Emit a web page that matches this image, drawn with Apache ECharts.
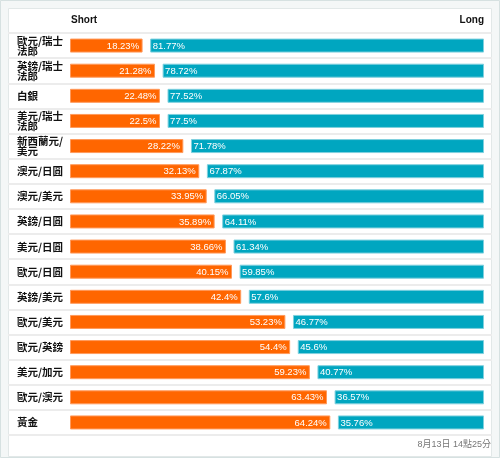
<!DOCTYPE html>
<html><head><meta charset="utf-8">
<script src="https://cdn.jsdelivr.net/npm/echarts@6/dist/echarts.min.js"></script>
<style>html,body{margin:0;padding:0;background:#fff}#c{width:500px;height:458px}</style>
</head><body><div id="c"></div>
<script>
var categories = ['歐元/瑞士法郎','英鎊/瑞士法郎','白銀','美元/瑞士法郎','新西蘭元/美元','澳元/日圓','澳元/美元','英鎊/日圓','美元/日圓','歐元/日圓','英鎊/美元','歐元/美元','歐元/英鎊','美元/加元','歐元/澳元','黃金'];
var shortValues = [18.23,21.28,22.48,22.5,28.22,32.13,33.95,35.89,38.66,40.15,42.4,53.23,54.4,59.23,63.43,64.24];
var longValues = [81.77,78.72,77.52,77.5,71.78,67.87,66.05,64.11,61.34,59.85,57.6,46.77,45.6,40.77,36.57,35.76];
var headerShort = 'Short', headerLong = 'Long';
var footerText = '8月13日 14點25分';

var chart = echarts.init(document.getElementById('c'), null, {renderer:'canvas'});
var data = categories.map(function(c,i){ return [shortValues[i], c, longValues[i]]; });
var numFont = '9.5px "Liberation Sans", Arial, sans-serif';

function renderItem(params, api) {
  var s = api.value(0), cat = api.value(1);
  var i = params.dataIndex;
  var p0 = api.coord([0, cat]), pm = api.coord([s, cat]), p1 = api.coord([100, cat]);
  var h = 14, y = p0[1] - h/2, gap = 3.8;
  var sx0 = p0[0] - 2, sx1 = pm[0] - gap;
  var lx0 = pm[0] + gap, lx1 = p1[0] + 4;
  return {type:'group', children:[
    {type:'rect', shape:{x:sx0+0.5, y:y+0.5, width:sx1-sx0-1, height:h-1}, style:{fill:'#ff6600', stroke:'#ff9a5c', lineWidth:1}},
    {type:'rect', shape:{x:lx0+0.5, y:y+0.5, width:lx1-lx0-1, height:h-1}, style:{fill:'#00a6c0', stroke:'#7fd0de', lineWidth:1}},
    {type:'text', x:sx1-3.5, y:p0[1]+0.5, style:{text: shortValues[i]+'%', fill:'#fff', font:numFont, align:'right', verticalAlign:'middle'}},
    {type:'text', x:lx0+2.5, y:p0[1]+0.5, style:{text: longValues[i]+'%', fill:'#fff', font:numFont, align:'left', verticalAlign:'middle'}}
  ]};
}

chart.setOption({
  animation:false,
  backgroundColor:'#f4f7f7',
  grid:[
    {left:72, right:20, top:33, height:402},
    {left:8, right:8, top:33, height:402}
  ],
  xAxis:[
    {gridIndex:0, type:'value', min:0, max:100, show:false},
    {gridIndex:1, type:'value', min:0, max:100, show:false}
  ],
  yAxis:[
    {gridIndex:0, type:'category', data:categories, inverse:true,
     axisLine:{show:false}, axisTick:{show:false}, splitLine:{show:false},
     axisLabel:{align:'left', margin:55, color:'#111', fontSize:10.5, lineHeight:10, fontWeight:'bold',
       fontFamily:'"Noto Sans CJK TC", sans-serif', width:48, overflow:'break'}},
    {gridIndex:1, type:'category', data:categories, inverse:true,
     axisLine:{show:false}, axisTick:{show:false}, axisLabel:{show:false},
     splitLine:{show:true, lineStyle:{color:'#ececec', width:2}}}
  ],
  graphic:[
    {type:'rect', z:-10, shape:{x:0.5, y:0.5, width:499, height:457}, style:{fill:'#f4f7f7', stroke:'#d6e1e1', lineWidth:1}},
    {type:'rect', z:-9, shape:{x:8.5, y:8.5, width:483, height:448}, style:{fill:'#ffffff', stroke:'#e2e8e8', lineWidth:1}},
    {type:'text', z:10, x:71, y:20.5, style:{text:headerShort, font:'bold 10px "Liberation Sans", Arial, sans-serif', fill:'#111', align:'left', verticalAlign:'middle'}},
    {type:'text', z:10, x:484, y:20.5, style:{text:headerLong, font:'bold 10px "Liberation Sans", Arial, sans-serif', fill:'#111', align:'right', verticalAlign:'middle'}},
    {type:'text', z:10, x:491, y:444.5, style:{text:footerText, font:'9px "Liberation Sans", "Noto Sans CJK TC", sans-serif', fill:'#777', align:'right', verticalAlign:'middle'}}
  ],
  series:[{
    type:'custom', xAxisIndex:0, yAxisIndex:0,
    renderItem:renderItem, encode:{x:0, y:1}, data:data
  }]
});
</script></body></html>
